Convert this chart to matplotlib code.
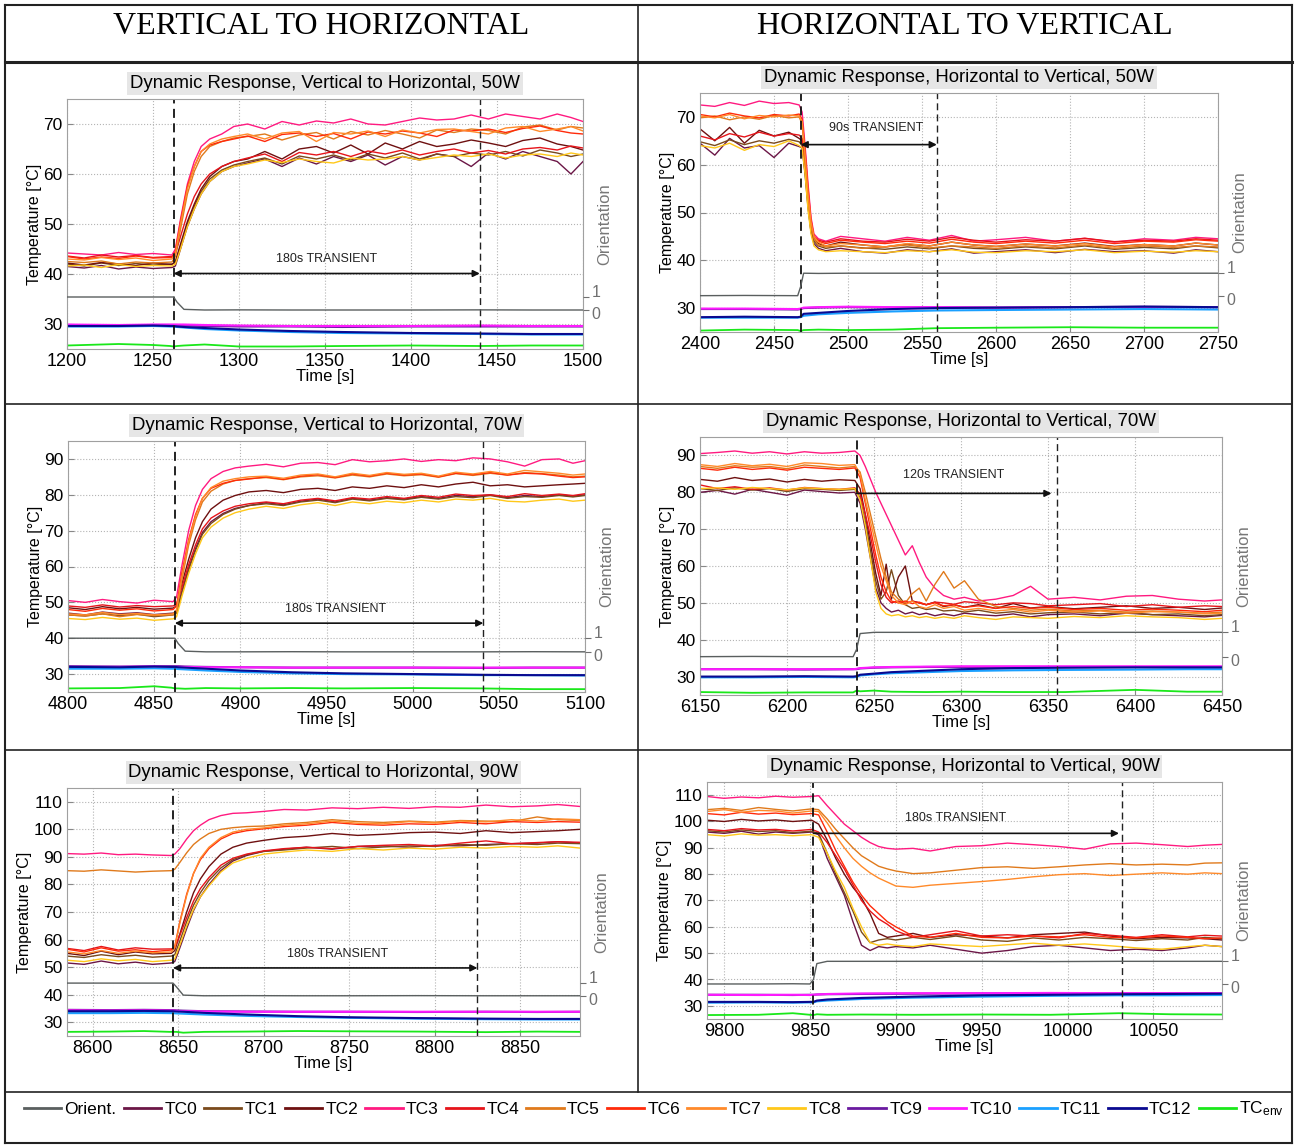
import matplotlib
matplotlib.use("Agg")
import matplotlib.pyplot as plt
import matplotlib.transforms as mtransforms
from matplotlib.lines import Line2D

# ---------------- DATA ----------------
SERIES_HOT = ["TC0", "TC1", "TC2", "TC3", "TC4", "TC5", "TC6", "TC7", "TC8"]
SERIES_LOW = ["TC9", "TC10", "TC11", "TC12"]

# Panel 1: Vertical to Horizontal, 50W
P1_T = [1200, 1210, 1220, 1230, 1240, 1250, 1261, 1263, 1266, 1270, 1274, 1278, 1283, 1290, 1297,
        1305, 1315, 1325, 1335, 1345, 1355, 1365, 1375, 1385, 1395, 1405, 1415, 1425, 1435, 1445,
        1455, 1465, 1475, 1485, 1493, 1500]
P1_TC0 = [41.5, 41.2, 41.7, 41.0, 41.4, 41.1, 41.3, 41.6, 45.0, 49.5, 53.0, 56.0, 58.5, 60.5, 61.5, 62.2, 63.0, 61.5, 63.2, 62.0, 63.5, 62.5, 63.8, 61.8, 63.5, 62.8, 64.0, 63.5, 61.5, 64.2, 63.0, 64.5, 63.5, 62.5, 60.0, 62.5]
P1_TC1 = [42.0, 41.6, 42.2, 41.7, 42.1, 41.8, 42.0, 42.3, 45.5, 50.0, 53.5, 56.5, 59.0, 60.8, 61.8, 62.5, 63.2, 62.0, 63.6, 63.0, 63.8, 62.8, 64.0, 63.2, 64.2, 63.0, 64.0, 63.5, 64.2, 63.8, 64.5, 63.6, 64.8, 64.2, 63.5, 64.0]
P1_TC2 = [42.2, 41.8, 42.3, 42.0, 41.7, 42.2, 41.9, 42.5, 46.0, 50.5, 54.0, 57.0, 59.5, 61.5, 62.5, 63.0, 64.5, 63.0, 65.0, 65.5, 64.2, 65.8, 64.0, 66.2, 65.0, 66.5, 65.5, 66.0, 66.8, 66.2, 65.5, 66.7, 67.2, 66.0, 65.5, 64.8]
P1_TC3 = [44.2, 44.0, 43.8, 44.3, 43.9, 44.1, 43.8, 45.0, 51.0, 58.0, 62.5, 65.5, 67.0, 68.0, 69.5, 70.0, 69.0, 70.5, 69.8, 70.6, 70.2, 71.0, 70.0, 69.8, 70.5, 71.2, 70.8, 71.0, 71.8, 71.0, 72.0, 71.5, 71.0, 72.0, 71.3, 70.5]
P1_TC4 = [43.6, 43.2, 43.8, 43.4, 43.7, 43.3, 43.5, 44.0, 47.5, 52.0, 55.5, 58.0, 60.0, 61.5, 62.5, 63.2, 64.0, 62.5, 64.3, 63.8, 64.5, 63.5, 64.6, 64.0, 64.8, 63.8, 64.5, 65.0, 64.2, 64.7, 64.0, 65.0, 65.3, 64.8, 65.6, 65.2]
P1_TC5 = [42.5, 42.3, 42.6, 42.0, 42.4, 42.2, 42.4, 43.5, 49.0, 56.0, 60.5, 63.5, 65.5, 66.5, 67.2, 67.5, 68.0, 66.8, 67.8, 68.3, 67.0, 68.5, 67.8, 68.7, 68.0, 67.2, 68.8, 68.3, 69.0, 68.7, 68.0, 69.4, 69.8, 68.8, 69.5, 69.2]
P1_TC6 = [43.5, 43.0, 43.4, 43.1, 43.6, 43.2, 43.3, 44.5, 50.5, 57.5, 61.5, 64.5, 65.8, 66.5, 67.0, 67.6, 66.5, 67.9, 68.2, 67.5, 68.1, 67.0, 68.4, 68.0, 68.6, 68.2, 67.5, 68.8, 68.6, 69.0, 68.3, 69.1, 69.6, 68.7, 68.2, 68.0]
P1_TC7 = [43.0, 42.8, 43.3, 42.9, 43.2, 42.7, 43.0, 44.0, 50.0, 57.0, 61.5, 64.5, 66.0, 67.0, 67.5, 68.0, 67.0, 68.2, 68.5, 66.5, 68.3, 68.0, 68.6, 67.5, 68.8, 68.2, 68.9, 69.0, 68.5, 68.0, 69.2, 69.5, 68.5, 69.0, 69.5, 68.6]
P1_TC8 = [41.6, 41.8, 41.3, 41.9, 41.5, 41.7, 41.6, 42.0, 45.0, 49.5, 53.0, 56.0, 58.5, 60.5, 61.5, 62.0, 62.8, 62.3, 63.0, 62.5, 62.2, 63.2, 62.8, 63.0, 63.5, 62.8, 63.3, 63.8, 63.5, 64.0, 63.2, 63.8, 64.0, 63.5, 64.2, 63.8]
P1_TL = [1200, 1230, 1250, 1260, 1262, 1264, 1268, 1280, 1300, 1330, 1360, 1400, 1440, 1470, 1500]
P1_TC9 = [29.8, 29.7, 29.8, 29.8, 29.8, 29.8, 29.7, 29.6, 29.5, 29.5, 29.4, 29.5, 29.5, 29.5, 29.5]
P1_TC10 = [29.9, 29.8, 29.9, 29.9, 29.9, 29.9, 29.9, 29.8, 29.7, 29.6, 29.6, 29.6, 29.7, 29.6, 29.6]
P1_TC11 = [29.5, 29.5, 29.6, 29.5, 29.5, 29.4, 29.3, 29.0, 28.7, 28.4, 28.2, 28.1, 28.0, 27.9, 27.9]
P1_TC12 = [29.6, 29.6, 29.7, 29.6, 29.6, 29.5, 29.4, 29.2, 28.9, 28.6, 28.4, 28.2, 28.1, 28.0, 28.0]
P1_ENV = [25.7, 26.0, 25.8, 25.6, 25.5, 25.6, 25.7, 25.9, 25.5, 25.5, 25.6, 25.7, 25.6, 25.7, 25.7]
P1_ORIENT = [1.0, 1.0, 1.0, 1.0, 1.0, 0.6, 0.05, 0.0, 0.01, 0.0, 0.0, 0.0, 0.01, 0.0, 0.0]

# Panel 2: Horizontal to Vertical, 50W
P2_T = [2400, 2410, 2420, 2430, 2440, 2450, 2460, 2467, 2469, 2471, 2473, 2475, 2477, 2480, 2485,
        2495, 2510, 2525, 2540, 2555, 2570, 2585, 2600, 2620, 2640, 2660, 2680, 2700, 2720, 2735, 2750]
P2_TC0 = [64.5, 62.0, 65.5, 63.5, 64.0, 61.5, 64.5, 63.8, 63.5, 58.0, 51.0, 46.0, 43.5, 42.5, 42.0, 42.5, 41.8, 41.5, 42.2, 41.8, 42.4, 41.5, 41.8, 42.2, 41.6, 42.3, 41.8, 42.0, 41.5, 42.2, 41.8]
P2_TC1 = [64.8, 64.0, 65.2, 64.2, 65.0, 64.5, 65.3, 64.8, 64.0, 58.5, 51.5, 46.0, 44.0, 43.0, 42.5, 43.0, 42.6, 42.3, 42.8, 42.4, 43.0, 42.5, 42.3, 42.8, 42.4, 43.0, 42.3, 42.7, 42.4, 43.0, 42.6]
P2_TC2 = [67.5, 65.0, 67.8, 64.5, 67.2, 66.0, 66.8, 65.5, 65.0, 59.0, 52.0, 46.5, 44.5, 43.5, 43.0, 43.8, 43.2, 42.8, 43.4, 43.0, 43.8, 43.2, 42.9, 43.4, 43.0, 43.6, 42.9, 43.3, 43.0, 43.6, 43.2]
P2_TC3 = [72.5, 72.2, 73.0, 72.4, 73.3, 72.8, 73.0, 72.5, 71.0, 64.0, 56.0, 49.0, 45.5, 44.5, 44.0, 45.0, 44.5, 44.0, 44.8, 44.2, 45.2, 44.0, 44.3, 44.8, 44.0, 44.6, 43.8, 44.5, 44.2, 44.8, 44.5]
P2_TC4 = [66.0, 65.2, 66.5, 65.8, 66.8, 66.0, 66.5, 66.2, 65.5, 60.0, 53.0, 47.5, 45.0, 44.2, 43.8, 44.5, 44.0, 43.8, 44.4, 44.0, 44.8, 44.2, 43.8, 44.3, 44.0, 44.6, 43.9, 44.2, 44.0, 44.5, 44.2]
P2_TC5 = [69.8, 70.2, 69.4, 70.0, 69.5, 70.3, 69.8, 70.0, 68.5, 61.0, 53.0, 47.0, 44.5, 43.2, 42.8, 43.0, 42.5, 42.8, 43.2, 42.6, 43.0, 42.8, 42.5, 43.0, 42.6, 43.2, 42.5, 43.0, 42.7, 43.0, 42.8]
P2_TC6 = [70.5, 70.0, 70.8, 70.2, 69.8, 70.5, 70.2, 70.6, 69.5, 63.0, 55.0, 48.5, 45.0, 44.0, 43.5, 44.2, 43.8, 43.5, 44.0, 43.6, 44.4, 43.8, 43.5, 44.0, 43.6, 44.2, 43.5, 44.0, 43.8, 44.3, 44.0]
P2_TC7 = [70.2, 69.8, 70.5, 69.6, 70.3, 70.0, 70.4, 70.2, 69.0, 62.0, 54.0, 48.0, 45.0, 43.8, 43.0, 43.5, 43.2, 42.8, 43.5, 43.0, 43.8, 43.2, 42.9, 43.4, 43.0, 43.5, 42.8, 43.3, 43.0, 43.6, 43.2]
P2_TC8 = [64.0, 63.5, 64.5, 63.0, 64.2, 63.8, 65.0, 64.0, 63.5, 58.0, 50.5, 45.5, 43.0, 42.2, 41.8, 42.0, 41.8, 41.6, 42.0, 41.8, 42.2, 41.7, 41.6, 42.0, 41.8, 42.2, 41.6, 41.9, 41.7, 42.0, 41.8]
P2_TL = [2400, 2430, 2466, 2468, 2470, 2480, 2500, 2530, 2560, 2600, 2650, 2700, 2750]
P2_TC9 = [29.8, 29.8, 29.7, 29.8, 30.0, 30.1, 30.2, 30.1, 30.2, 30.1, 30.2, 30.3, 30.2]
P2_TC10 = [29.9, 29.9, 29.8, 29.9, 30.1, 30.2, 30.3, 30.2, 30.2, 30.1, 30.2, 30.2, 30.2]
P2_TC11 = [28.0, 28.0, 28.0, 28.1, 28.4, 28.7, 29.0, 29.3, 29.5, 29.6, 29.7, 29.8, 29.7]
P2_TC12 = [28.1, 28.2, 28.1, 28.2, 28.8, 29.0, 29.4, 29.8, 30.0, 30.1, 30.2, 30.3, 30.2]
P2_ENV = [25.3, 25.5, 25.4, 25.2, 25.4, 25.5, 25.4, 25.5, 25.8, 25.9, 26.0, 25.9, 25.9]
P2_ORIENT = [0.0, 0.01, 0.0, 0.4, 1.0, 0.99, 1.0, 1.0, 1.0, 1.0, 0.99, 1.0, 1.0]

# Panel 3: Vertical to Horizontal, 70W
P3_T = [4800, 4810, 4820, 4830, 4840, 4850, 4861, 4863, 4866, 4870, 4874, 4878, 4883, 4890, 4897,
        4905, 4915, 4925, 4935, 4945, 4955, 4965, 4975, 4985, 4995, 5005, 5015, 5025, 5035, 5045,
        5055, 5065, 5075, 5085, 5093, 5100]
P3_TC0 = [47.0, 46.5, 47.3, 46.8, 47.1, 46.6, 47.0, 47.5, 53.0, 59.5, 65.0, 69.5, 72.5, 74.8, 76.2, 77.0, 77.8, 77.2, 78.2, 78.8, 78.0, 79.0, 78.5, 79.2, 78.8, 79.5, 79.0, 79.8, 79.5, 80.0, 79.2, 79.8, 79.5, 80.0, 79.6, 80.0]
P3_TC1 = [46.5, 46.2, 46.8, 46.3, 46.7, 46.0, 46.5, 47.0, 52.5, 59.0, 64.5, 69.0, 72.0, 74.5, 76.0, 77.0, 77.5, 77.0, 78.0, 78.5, 77.8, 78.8, 78.3, 79.0, 78.6, 79.3, 78.8, 79.5, 79.2, 79.8, 79.0, 79.5, 79.3, 79.8, 79.4, 79.8]
P3_TC2 = [48.5, 48.0, 48.8, 48.2, 48.6, 48.1, 48.4, 49.0, 55.0, 62.0, 68.0, 72.5, 76.0, 78.5, 79.8, 80.8, 81.2, 80.6, 81.5, 81.8, 81.2, 82.2, 81.8, 82.5, 82.0, 82.8, 82.2, 83.0, 83.5, 82.5, 82.8, 82.2, 82.5, 82.8, 83.0, 83.2]
P3_TC3 = [50.5, 50.0, 50.8, 50.2, 49.8, 50.6, 50.2, 51.5, 60.0, 70.0, 77.0, 81.5, 84.5, 86.5, 87.5, 88.0, 88.5, 87.8, 88.8, 89.0, 88.4, 89.8, 89.2, 89.5, 90.0, 89.3, 89.8, 89.5, 90.3, 90.0, 89.2, 88.0, 89.8, 90.0, 88.8, 89.5]
P3_TC4 = [49.0, 48.6, 49.3, 48.7, 49.1, 48.8, 49.0, 49.5, 54.0, 60.5, 66.0, 70.5, 73.5, 75.5, 76.8, 77.5, 78.0, 77.5, 78.5, 79.0, 78.3, 79.2, 78.8, 79.5, 79.0, 79.8, 79.3, 80.2, 79.8, 80.0, 79.5, 80.3, 79.8, 80.2, 79.8, 80.3]
P3_TC5 = [46.5, 46.2, 46.8, 46.0, 46.6, 46.3, 46.5, 47.5, 56.0, 66.0, 73.0, 78.0, 81.0, 83.0, 84.0, 84.5, 84.8, 84.2, 85.0, 85.3, 84.7, 85.5, 85.0, 85.8, 85.3, 85.6, 84.9, 85.9, 85.4, 86.0, 85.5, 86.2, 85.9, 85.5, 85.0, 85.2]
P3_TC6 = [48.0, 47.5, 48.3, 47.8, 48.2, 47.6, 48.0, 49.0, 58.0, 67.5, 74.5, 79.0, 81.8, 83.2, 84.0, 84.4, 85.0, 84.3, 85.2, 85.6, 84.8, 85.8, 85.2, 86.0, 85.5, 85.8, 85.0, 86.0, 85.6, 86.2, 85.5, 86.0, 85.8, 85.2, 84.8, 85.0]
P3_TC7 = [46.8, 46.5, 47.2, 46.6, 46.9, 46.5, 46.8, 48.0, 57.0, 67.0, 74.0, 79.0, 82.0, 83.8, 84.5, 85.0, 85.2, 84.6, 85.5, 85.8, 85.0, 86.0, 85.4, 86.2, 85.7, 86.0, 85.2, 86.3, 85.8, 86.5, 85.8, 86.8, 86.4, 86.0, 85.5, 85.8]
P3_TC8 = [45.5, 45.2, 45.8, 45.3, 45.6, 45.0, 45.4, 46.0, 51.5, 58.0, 63.5, 68.0, 71.0, 73.5, 75.0, 76.0, 76.8, 76.2, 77.2, 77.8, 77.0, 78.0, 77.5, 78.2, 77.8, 78.5, 78.0, 78.8, 78.5, 79.0, 78.2, 78.0, 78.5, 78.8, 78.2, 78.5]
P3_TL = [4800, 4830, 4850, 4860, 4862, 4864, 4868, 4880, 4900, 4930, 4960, 5000, 5040, 5070, 5100]
P3_TC9 = [32.2, 32.1, 32.2, 32.2, 32.2, 32.2, 32.1, 32.0, 31.9, 31.8, 31.8, 31.8, 31.7, 31.8, 31.8]
P3_TC10 = [32.0, 32.0, 32.1, 32.0, 32.0, 32.0, 32.0, 31.9, 31.9, 31.8, 31.8, 31.8, 31.8, 31.8, 31.8]
P3_TC11 = [31.5, 31.5, 31.6, 31.5, 31.5, 31.4, 31.3, 31.0, 30.6, 30.2, 30.0, 29.9, 29.7, 29.7, 29.6]
P3_TC12 = [32.0, 31.9, 32.1, 32.0, 32.0, 31.9, 31.8, 31.5, 31.0, 30.5, 30.2, 30.0, 29.8, 29.7, 29.7]
P3_ENV = [26.0, 26.1, 26.6, 26.2, 26.0, 26.0, 25.9, 26.1, 26.0, 26.1, 26.0, 26.1, 26.0, 25.8, 25.8]
P3_ORIENT = [1.0, 1.0, 1.0, 1.0, 1.0, 0.6, 0.05, 0.0, 0.0, 0.01, 0.0, 0.0, 0.0, 0.01, 0.0]

# Panel 4: Horizontal to Vertical, 70W
P4_T = [6150, 6160, 6170, 6180, 6190, 6200, 6210, 6220, 6230, 6239, 6242, 6245, 6248, 6251, 6254,
        6257, 6260, 6264, 6268, 6272, 6276, 6280, 6285, 6290, 6296, 6302, 6310, 6320, 6330, 6340,
        6350, 6365, 6380, 6395, 6410, 6425, 6440, 6450]
P4_TC0 = [80.0, 80.5, 79.5, 80.8, 80.0, 79.2, 80.6, 80.2, 79.8, 80.0, 77.0, 70.0, 62.0, 54.0, 50.0, 48.5, 47.5, 48.0, 47.0, 47.5, 46.8, 47.2, 46.5, 47.0, 46.5, 47.2, 46.8, 46.5, 47.0, 46.2, 46.8, 47.0, 46.5, 47.2, 46.8, 46.5, 46.2, 46.6]
P4_TC1 = [81.0, 80.5, 81.2, 80.6, 81.0, 80.2, 81.0, 80.8, 80.5, 80.8, 78.5, 72.0, 64.0, 56.0, 51.0, 53.0, 59.0, 52.0, 49.5, 48.5, 48.8, 48.2, 48.5, 47.8, 48.0, 47.5, 48.0, 47.2, 47.6, 47.0, 47.3, 47.5, 47.0, 47.4, 46.8, 47.0, 46.5, 46.8]
P4_TC2 = [83.5, 83.0, 84.0, 83.2, 83.6, 82.8, 83.5, 83.0, 83.4, 83.2, 81.0, 74.0, 66.0, 58.0, 52.0, 60.5, 51.0, 57.0, 60.0, 50.5, 50.0, 49.5, 50.2, 49.0, 49.5, 48.8, 49.5, 48.5, 49.8, 48.6, 49.0, 48.4, 48.8, 49.2, 48.5, 48.8, 48.2, 48.6]
P4_TC3 = [90.5, 90.8, 91.2, 90.6, 91.0, 90.4, 91.0, 90.6, 90.8, 91.2, 90.0, 87.0, 83.5, 80.0, 77.0, 74.0, 71.0, 67.0, 63.0, 65.5, 61.0, 57.0, 54.0, 52.0, 51.0, 51.5, 50.5, 51.0, 52.0, 54.5, 51.0, 51.5, 50.8, 51.8, 52.0, 51.0, 50.5, 50.8]
P4_TC4 = [82.0, 81.0, 81.5, 80.8, 81.2, 80.6, 81.3, 81.0, 80.8, 81.2, 79.5, 74.0, 68.0, 61.0, 55.0, 51.5, 50.0, 50.5, 49.8, 50.5, 50.0, 49.5, 50.2, 50.0, 49.6, 50.3, 50.0, 49.5, 50.0, 49.8, 49.2, 49.5, 49.8, 49.0, 49.5, 48.8, 49.2, 49.0]
P4_TC5 = [87.0, 86.5, 87.2, 86.8, 87.0, 86.4, 87.4, 87.0, 86.6, 87.0, 85.5, 80.0, 74.0, 68.0, 62.0, 57.0, 53.0, 51.0, 50.0, 52.5, 54.0, 50.5, 55.0, 58.5, 54.0, 56.0, 51.0, 49.0, 48.5, 48.0, 48.3, 47.8, 48.0, 47.5, 47.8, 47.5, 47.2, 47.5]
P4_TC6 = [86.5, 86.0, 86.8, 86.2, 86.6, 86.0, 86.8, 86.5, 86.2, 86.6, 84.0, 77.0, 70.0, 63.0, 57.0, 53.0, 50.5, 50.0, 50.5, 49.8, 50.2, 49.5, 50.0, 49.2, 49.5, 48.8, 49.2, 48.5, 49.0, 48.5, 48.8, 48.2, 48.5, 48.0, 48.3, 48.0, 47.6, 48.0]
P4_TC7 = [87.5, 87.0, 87.8, 87.2, 87.6, 87.0, 88.0, 87.8, 87.3, 87.5, 85.0, 78.0, 72.0, 66.0, 60.0, 56.0, 52.0, 50.0, 49.5, 50.5, 49.0, 48.5, 49.5, 48.5, 49.0, 48.0, 48.5, 47.8, 48.2, 47.5, 48.0, 47.5, 47.8, 47.2, 47.6, 47.5, 47.0, 47.2]
P4_TC8 = [81.0, 81.2, 80.8, 81.3, 81.0, 80.7, 81.2, 81.0, 80.8, 81.0, 78.0, 71.0, 62.0, 53.0, 48.5, 47.0, 46.5, 46.8, 46.2, 46.5, 46.0, 46.3, 45.8, 46.2, 45.8, 46.5, 46.0, 45.5, 46.2, 46.0, 45.8, 46.3, 46.0, 46.5, 46.2, 46.0, 45.5, 45.8]
P4_TL = [6150, 6180, 6210, 6238, 6240, 6242, 6250, 6260, 6280, 6300, 6330, 6360, 6400, 6430, 6450]
P4_TC9 = [32.0, 32.0, 31.9, 32.0, 32.0, 32.2, 32.4, 32.5, 32.6, 32.6, 32.6, 32.6, 32.6, 32.5, 32.5]
P4_TC10 = [32.0, 32.0, 32.0, 32.0, 32.1, 32.3, 32.5, 32.6, 32.7, 32.8, 32.8, 32.8, 32.8, 32.8, 32.8]
P4_TC11 = [29.8, 29.8, 29.9, 29.8, 29.9, 30.3, 30.6, 30.9, 31.2, 31.5, 31.7, 31.8, 31.9, 32.0, 32.0]
P4_TC12 = [30.0, 30.0, 30.1, 30.0, 30.1, 30.5, 30.8, 31.2, 31.6, 32.0, 32.3, 32.4, 32.5, 32.5, 32.5]
P4_ENV = [25.8, 25.6, 25.7, 25.7, 26.2, 26.0, 26.2, 25.9, 25.8, 25.9, 25.8, 25.8, 26.4, 25.9, 25.9]
P4_ORIENT = [0.0, 0.01, 0.0, 0.0, 0.3, 0.95, 1.0, 1.0, 1.0, 1.0, 1.0, 1.0, 1.0, 1.0, 1.0]

# Panel 5: Vertical to Horizontal, 90W
P5_T = [8585, 8595, 8605, 8615, 8625, 8635, 8646, 8648, 8651, 8655, 8659, 8663, 8668, 8675, 8682,
        8690, 8700, 8712, 8725, 8740, 8755, 8770, 8785, 8800, 8815, 8830, 8845, 8860, 8872, 8885]
P5_TC0 = [51.5, 51.0, 52.2, 51.2, 51.8, 51.0, 51.5, 52.0, 57.0, 64.0, 70.5, 75.5, 80.0, 85.0, 88.5, 90.5, 92.0, 92.8, 93.5, 92.8, 93.8, 94.0, 93.5, 94.2, 94.0, 94.5, 94.8, 95.0, 95.5, 95.0]
P5_TC1 = [54.0, 53.5, 54.5, 53.8, 54.3, 53.6, 54.0, 54.5, 59.5, 66.5, 72.5, 77.0, 81.5, 86.0, 89.0, 90.8, 92.0, 92.5, 93.2, 93.8, 93.0, 93.6, 94.0, 93.8, 94.5, 94.2, 94.8, 94.5, 95.0, 94.8]
P5_TC2 = [55.0, 54.2, 55.8, 54.5, 55.5, 54.8, 55.0, 56.0, 62.0, 70.0, 77.0, 82.0, 86.5, 91.0, 93.5, 95.0, 96.0, 97.0, 97.5, 98.5, 97.8, 98.2, 98.8, 99.0, 98.5, 99.5, 98.8, 99.2, 99.5, 100.0]
P5_TC3 = [91.2, 91.0, 91.4, 90.8, 91.0, 90.7, 90.5, 91.0, 93.0, 96.5, 99.5, 101.5, 103.5, 105.0, 105.8, 106.0, 106.5, 107.2, 107.0, 107.8, 107.5, 108.0, 107.6, 108.2, 108.0, 108.8, 108.2, 108.5, 109.0, 108.3]
P5_TC4 = [56.8, 56.0, 57.5, 56.2, 57.0, 56.5, 56.6, 57.0, 61.5, 68.0, 74.0, 78.5, 82.5, 87.0, 89.5, 91.0, 92.2, 93.0, 93.5, 93.0, 93.8, 94.2, 94.5, 94.0, 95.0, 95.8, 94.8, 95.2, 95.5, 95.3]
P5_TC5 = [85.0, 84.8, 85.3, 84.9, 84.5, 84.8, 85.0, 85.5, 88.0, 91.5, 94.5, 96.5, 98.5, 100.0, 100.6, 101.0, 101.2, 102.0, 102.5, 103.5, 102.8, 102.5, 103.0, 102.6, 103.2, 103.0, 102.8, 104.5, 103.5, 103.2]
P5_TC6 = [56.5, 55.5, 57.0, 55.8, 56.3, 55.6, 56.2, 57.5, 66.5, 76.5, 84.0, 89.0, 93.0, 96.5, 98.5, 99.5, 100.2, 101.0, 101.5, 102.5, 101.8, 101.5, 102.0, 101.8, 102.5, 102.0, 102.8, 102.5, 102.8, 102.6]
P5_TC7 = [55.5, 54.8, 56.0, 55.0, 55.8, 55.2, 55.5, 57.0, 66.0, 76.0, 84.0, 89.5, 93.5, 97.0, 99.0, 100.0, 100.5, 101.5, 102.0, 103.0, 102.2, 102.0, 102.8, 102.3, 103.0, 102.7, 103.5, 103.0, 103.8, 103.5]
P5_TC8 = [52.5, 52.0, 53.0, 52.3, 52.8, 52.0, 52.5, 53.0, 58.0, 65.0, 71.0, 75.5, 79.5, 84.5, 87.8, 89.5, 91.0, 91.8, 92.5, 92.0, 93.0, 92.5, 93.2, 92.8, 93.5, 93.2, 93.8, 93.5, 94.0, 93.2]
P5_TL = [8585, 8610, 8630, 8645, 8647, 8649, 8653, 8665, 8690, 8720, 8750, 8790, 8830, 8860, 8885]
P5_TC9 = [34.5, 34.4, 34.5, 34.4, 34.4, 34.3, 34.2, 34.0, 33.9, 33.8, 33.8, 33.7, 33.8, 33.7, 33.8]
P5_TC10 = [34.3, 34.2, 34.3, 34.2, 34.2, 34.1, 34.0, 33.9, 33.8, 33.8, 33.8, 33.8, 33.8, 33.8, 33.8]
P5_TC11 = [33.3, 33.3, 33.4, 33.3, 33.3, 33.2, 33.1, 32.8, 32.3, 31.9, 31.6, 31.3, 31.1, 31.0, 31.0]
P5_TC12 = [34.0, 34.0, 34.1, 34.0, 34.0, 33.9, 33.8, 33.4, 32.8, 32.2, 31.8, 31.5, 31.3, 31.2, 31.2]
P5_ENV = [26.5, 26.6, 26.8, 26.5, 26.5, 26.5, 26.2, 26.5, 26.6, 26.8, 26.7, 26.6, 26.4, 26.6, 26.5]
P5_ORIENT = [1.0, 1.0, 1.0, 1.0, 1.0, 0.7, 0.05, 0.0, 0.01, 0.0, 0.0, 0.01, 0.0, 0.0, 0.0]

# Panel 6: Horizontal to Vertical, 90W
P6_T = [9790, 9800, 9810, 9820, 9830, 9840, 9851, 9855, 9860, 9865, 9870, 9875, 9880, 9885, 9890,
        9895, 9900, 9910, 9920, 9935, 9950, 9965, 9980, 9995, 10010, 10025, 10040, 10055, 10070,
        10080, 10090]
P6_TC0 = [96.0, 95.5, 96.3, 95.2, 96.0, 95.5, 96.0, 95.0, 86.0, 79.0, 72.0, 62.0, 53.0, 51.0, 52.5, 52.0, 52.5, 52.0, 53.0, 51.5, 50.0, 51.0, 52.5, 53.0, 52.0, 51.0, 51.5, 51.0, 52.0, 53.0, 52.5]
P6_TC1 = [96.5, 96.0, 96.8, 96.2, 96.5, 95.8, 96.3, 95.5, 88.0, 80.0, 73.0, 66.0, 58.0, 54.0, 55.0, 55.5, 55.0, 56.0, 55.2, 56.5, 55.0, 54.5, 55.8, 55.0, 56.0, 55.5, 54.8, 55.5, 55.0, 56.0, 55.5]
P6_TC2 = [100.5, 100.0, 100.8, 100.2, 100.6, 100.0, 100.5, 99.0, 93.0, 86.0, 80.0, 75.0, 71.0, 65.0, 57.5, 56.0, 56.5, 57.5, 56.0, 57.0, 56.5, 55.8, 57.0, 57.5, 58.0, 56.5, 55.5, 56.0, 55.8, 55.5, 55.0]
P6_TC3 = [109.5, 108.8, 109.3, 109.0, 109.6, 109.2, 109.5, 109.8, 106.0, 102.5, 99.0, 96.5, 94.0, 92.0, 90.5, 89.8, 89.5, 89.8, 88.8, 90.5, 90.8, 91.8, 91.2, 90.5, 89.5, 91.5, 91.8, 91.2, 90.5, 91.0, 91.3]
P6_TC4 = [97.0, 96.5, 97.3, 96.8, 97.0, 96.4, 97.0, 96.0, 92.0, 87.0, 82.0, 76.0, 70.0, 66.0, 63.0, 61.0, 58.5, 56.0, 57.0, 58.5, 56.5, 57.0, 56.5, 55.8, 57.5, 56.8, 56.0, 57.0, 56.2, 56.8, 56.5]
P6_TC5 = [104.5, 105.0, 104.2, 105.3, 104.6, 104.0, 104.8, 104.5, 101.0, 97.0, 93.5, 90.0, 87.0, 85.0, 83.0, 82.0, 81.2, 80.2, 80.5, 81.5, 82.5, 82.8, 82.2, 82.8, 83.5, 84.0, 83.5, 83.8, 83.5, 84.2, 84.3]
P6_TC6 = [103.0, 102.5, 103.5, 102.8, 103.2, 102.6, 103.0, 102.5, 96.0, 89.0, 83.0, 77.0, 72.0, 68.0, 65.0, 62.0, 60.0, 56.5, 56.0, 57.5, 56.0, 55.8, 56.5, 56.2, 57.0, 56.0, 55.8, 56.5, 56.0, 55.5, 55.8]
P6_TC7 = [103.8, 104.5, 103.5, 104.2, 104.0, 103.2, 104.0, 103.8, 99.5, 94.5, 90.0, 86.0, 83.0, 80.5, 78.5, 77.0, 75.5, 75.0, 75.8, 76.5, 77.2, 78.0, 79.0, 79.8, 80.2, 79.5, 80.0, 80.5, 80.0, 80.5, 80.2]
P6_TC8 = [95.0, 94.5, 95.3, 94.8, 95.0, 94.6, 95.0, 94.0, 88.0, 81.0, 75.0, 67.0, 60.0, 54.0, 53.0, 53.5, 53.0, 52.5, 53.5, 53.0, 52.5, 53.2, 53.8, 53.0, 53.5, 52.8, 52.0, 51.5, 52.5, 53.0, 52.5]
P6_TL = [9790, 9820, 9840, 9850, 9852, 9854, 9860, 9880, 9910, 9950, 9990, 10030, 10060, 10090]
P6_TC9 = [34.2, 34.2, 34.1, 34.2, 34.2, 34.3, 34.4, 34.5, 34.6, 34.7, 34.7, 34.8, 34.8, 34.8]
P6_TC10 = [34.2, 34.1, 34.2, 34.1, 34.2, 34.3, 34.5, 34.7, 34.8, 34.8, 34.9, 34.8, 34.8, 34.8]
P6_TC11 = [31.2, 31.3, 31.2, 31.3, 31.3, 31.7, 32.0, 32.6, 33.1, 33.5, 33.8, 34.0, 34.0, 34.1]
P6_TC12 = [31.5, 31.5, 31.4, 31.5, 31.5, 32.0, 32.4, 33.0, 33.5, 34.0, 34.2, 34.4, 34.5, 34.6]
P6_ENV = [26.5, 26.6, 27.2, 26.6, 26.5, 26.8, 26.6, 26.7, 26.6, 26.7, 26.6, 27.2, 26.8, 26.7]
P6_ORIENT = [0.0, 0.0, 0.01, 0.0, 0.2, 0.9, 1.0, 1.0, 1.0, 1.0, 0.99, 1.0, 1.0, 1.0]

TITLES = ["Dynamic Response, Vertical to Horizontal, 50W", "Dynamic Response, Horizontal to Vertical, 50W",
          "Dynamic Response, Vertical to Horizontal, 70W", "Dynamic Response, Horizontal to Vertical, 70W",
          "Dynamic Response, Vertical to Horizontal, 90W", "Dynamic Response, Horizontal to Vertical, 90W"]
SWITCH_TIMES = [1262, 2468, 4862, 6240, 8647, 9852]
END_TIMES = [1440, 2560, 5041, 6355, 8825, 10032]
TRANSIENT_LABELS = ["180s TRANSIENT", "90s TRANSIENT", "180s TRANSIENT", "120s TRANSIENT",
                    "180s TRANSIENT", "180s TRANSIENT"]
COLUMN_HEADERS = ["VERTICAL TO HORIZONTAL", "HORIZONTAL TO VERTICAL"]
ORIENT_TICKS = [0, 1]
ORIENT_TICK_LABELS = ["0", "1"]
LEGEND_LABELS = ["Orient.", "TC0", "TC1", "TC2", "TC3", "TC4", "TC5", "TC6", "TC7", "TC8", "TC9",
                 "TC10", "TC11", "TC12", r"TC$_{\mathregular{env}}$"]

# ---------------- STYLE / LAYOUT ----------------
HOT_COLORS = ["#6b1646", "#7a4a1c", "#6e1010", "#ff1a80", "#e6141a", "#e07a1c", "#ff2a0a", "#ff8a2a", "#ffc81a"]
LOW_COLORS = ["#6a1aa0", "#ff1aff", "#1aa0ff", "#0a0a90"]
ENV_COLOR = "#1ae81a"
ORIENT_COLOR = "#5a5f5f"

W, H = 1295, 1146
RECTS = [(67, 99, 583, 349), (700, 93, 1218, 332), (68, 441, 585, 692),
         (700, 437, 1222, 695), (67, 788, 580, 1036), (707, 782, 1222, 1019)]
XLIMS = [(1200, 1500), (2400, 2750), (4800, 5100), (6150, 6450), (8585, 8885), (9790, 10090)]
YLIMS = [(25, 75), (25, 75), (25, 95), (25, 95), (25, 115), (25, 115)]
XTICKS = [range(1200, 1501, 50), range(2400, 2751, 50), range(4800, 5101, 50),
          range(6150, 6451, 50), range(8600, 8851, 50), range(9800, 10051, 50)]
YTICKS = [range(30, 71, 10), range(30, 71, 10), range(30, 91, 10), range(30, 91, 10),
          range(30, 111, 10), range(30, 111, 10)]
ORIENT_MAP = [(32.8, 35.4), (32.6, 37.3), (36.2, 40.0), (35.4, 42.0), (39.6, 44.2), (38.3, 46.9)]
ARROW_Y = [40.1, 64.2, 44.2, 79.7, 49.7, 95.5]
TEXT_POS = [(1351, 42.9), (2519, 67.6), (4955, 48.2), (6296, 84.8), (8743, 54.9), (9935, 101.5)]
ARROW_STYLES = ["<|-|>", "<|-|>", "<|-|>", "-|>", "<|-|>", "-|>"]
ARROW_END = [1440, 2560, 5041, 6352, 8825, 10030]

PANEL_T = [P1_T, P2_T, P3_T, P4_T, P5_T, P6_T]
PANEL_HOT = [
    [P1_TC0, P1_TC1, P1_TC2, P1_TC3, P1_TC4, P1_TC5, P1_TC6, P1_TC7, P1_TC8],
    [P2_TC0, P2_TC1, P2_TC2, P2_TC3, P2_TC4, P2_TC5, P2_TC6, P2_TC7, P2_TC8],
    [P3_TC0, P3_TC1, P3_TC2, P3_TC3, P3_TC4, P3_TC5, P3_TC6, P3_TC7, P3_TC8],
    [P4_TC0, P4_TC1, P4_TC2, P4_TC3, P4_TC4, P4_TC5, P4_TC6, P4_TC7, P4_TC8],
    [P5_TC0, P5_TC1, P5_TC2, P5_TC3, P5_TC4, P5_TC5, P5_TC6, P5_TC7, P5_TC8],
    [P6_TC0, P6_TC1, P6_TC2, P6_TC3, P6_TC4, P6_TC5, P6_TC6, P6_TC7, P6_TC8],
]
PANEL_TL = [P1_TL, P2_TL, P3_TL, P4_TL, P5_TL, P6_TL]
PANEL_LOW = [
    [P1_TC9, P1_TC10, P1_TC11, P1_TC12], [P2_TC9, P2_TC10, P2_TC11, P2_TC12],
    [P3_TC9, P3_TC10, P3_TC11, P3_TC12], [P4_TC9, P4_TC10, P4_TC11, P4_TC12],
    [P5_TC9, P5_TC10, P5_TC11, P5_TC12], [P6_TC9, P6_TC10, P6_TC11, P6_TC12],
]
PANEL_ENV = [P1_ENV, P2_ENV, P3_ENV, P4_ENV, P5_ENV, P6_ENV]
PANEL_ORIENT = [P1_ORIENT, P2_ORIENT, P3_ORIENT, P4_ORIENT, P5_ORIENT, P6_ORIENT]

plt.rcParams['font.family'] = ['Liberation Sans', 'DejaVu Sans']
plt.rcParams['mathtext.fontset'] = 'custom'
plt.rcParams['mathtext.rm'] = 'Liberation Sans'
plt.rcParams['mathtext.it'] = 'Liberation Sans:italic'


def fx(x):
    return x / W


def fy(y):
    return 1 - y / H


fig = plt.figure(figsize=(W / 100, H / 100), dpi=100)
fig.patch.set_facecolor('white')

# table frame
frame_lines = [((5, 5), (1292, 5), 1.5), ((5, 1143), (1292, 1143), 1.5),
               ((5, 5), (5, 1143), 1.5), ((1292, 5), (1292, 1143), 1.5),
               ((5, 62), (1292, 62), 2.2), ((5, 404), (1292, 404), 1.2),
               ((5, 750), (1292, 750), 1.2), ((5, 1092), (1292, 1092), 1.2),
               ((638, 5), (638, 1092), 1.2)]
for (x0, y0), (x1, y1), lw in frame_lines:
    fig.add_artist(Line2D([fx(x0), fx(x1)], [fy(y0), fy(y1)], transform=fig.transFigure,
                          color='#222222', lw=lw))

fig.text(fx(321), fy(27), COLUMN_HEADERS[0], ha='center', va='center', fontsize=23,
         family=['Liberation Serif', 'DejaVu Serif'])
fig.text(fx(965), fy(27), COLUMN_HEADERS[1], ha='center', va='center', fontsize=23,
         family=['Liberation Serif', 'DejaVu Serif'])

for i in range(6):
    l, t, r, b = RECTS[i]
    ax = fig.add_axes([fx(l), fy(b), (r - l) / W, (b - t) / H])
    T = PANEL_T[i]
    TL = PANEL_TL[i]
    for vals, c in zip(PANEL_HOT[i], HOT_COLORS):
        ax.plot(T, vals, color=c, lw=1.0)
    for vals, c in zip(PANEL_LOW[i], LOW_COLORS):
        ax.plot(TL, vals, color=c, lw=1.5)
    ax.plot(TL, PANEL_ENV[i], color=ENV_COLOR, lw=1.3)
    ax.set_xlim(*XLIMS[i])
    ax.set_ylim(*YLIMS[i])
    ax.set_xticks(list(XTICKS[i]))
    ax.set_yticks(list(YTICKS[i]))
    ax.grid(True, ls=':', color='#b4b4b4', lw=0.8)
    ax.tick_params(direction='in', length=4, color='#888888', pad=3)
    ax.tick_params(axis='x', labelsize=13)
    ax.tick_params(axis='y', labelsize=12.5)
    for sp in ax.spines.values():
        sp.set_color('#a0a0a0')
    ax.set_xlabel('Time [s]', fontsize=12, labelpad=-1)
    ax.set_ylabel('Temperature [°C]', fontsize=11.5, labelpad=1)
    ax.set_title(TITLES[i], fontsize=13.4, pad=8,
                 bbox=dict(facecolor='#e6e6e6', edgecolor='none', pad=2))
    ax.axvline(SWITCH_TIMES[i], color='#111111', ls=(0, (5, 3)), lw=1.3)
    ax.axvline(END_TIMES[i], color='#222222', ls=(0, (5, 3)), lw=1.0)
    ax.annotate('', xy=(ARROW_END[i], ARROW_Y[i]), xytext=(SWITCH_TIMES[i], ARROW_Y[i]),
                arrowprops=dict(arrowstyle=ARROW_STYLES[i], color='#111111', lw=1.2,
                                mutation_scale=10, shrinkA=0, shrinkB=0))
    ax.text(TEXT_POS[i][0], TEXT_POS[i][1], TRANSIENT_LABELS[i], ha='center', va='center',
            fontsize=9, color='#222222')

    ax2 = ax.twinx()
    o0, o1 = ORIENT_MAP[i]
    span = o1 - o0
    ylo, yhi = YLIMS[i]
    ax2.plot(TL, PANEL_ORIENT[i], color=ORIENT_COLOR, lw=1.0)
    ax2.set_ylim((ylo - o0) / span, (yhi - o0) / span)
    ax2.set_yticks(ORIENT_TICKS)
    ax2.set_yticklabels([])
    ax2.tick_params(colors='#707070', length=4, direction='out')
    for sp in ax2.spines.values():
        sp.set_visible(False)
    blend = mtransforms.blended_transform_factory(ax2.transAxes, ax2.transData)
    for val, lab in zip(ORIENT_TICKS, ORIENT_TICK_LABELS):
        dy = 3.5 if val == 1 else -3.5
        off = mtransforms.ScaledTranslation(6 / 72, dy / 72, fig.dpi_scale_trans)
        ax2.text(1.0, val, lab, transform=blend + off, ha='left', va='center',
                 fontsize=11.5, color='#707070')
    ax2.set_ylabel('Orientation', color='#777777', fontsize=12, labelpad=3)

handles = [Line2D([], [], color=ORIENT_COLOR, lw=2)]
handles += [Line2D([], [], color=c, lw=2) for c in HOT_COLORS]
handles += [Line2D([], [], color=c, lw=2) for c in LOW_COLORS]
handles += [Line2D([], [], color=ENV_COLOR, lw=2)]
fig.legend(handles, LEGEND_LABELS, loc='center', bbox_to_anchor=(fx(654), fy(1109)), ncol=15,
           frameon=False, handlelength=2.15, handletextpad=0.2, columnspacing=0.4,
           prop={'family': ['Liberation Sans', 'DejaVu Sans'], 'size': 12.5})

fig.savefig('out.png', dpi=100, facecolor='white')
